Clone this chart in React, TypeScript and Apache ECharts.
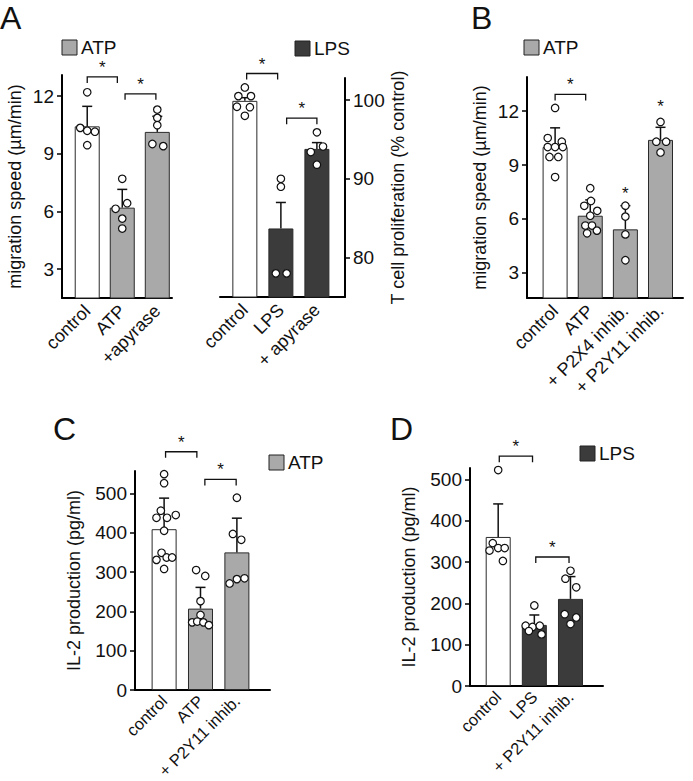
import React, { useEffect, useRef } from 'react';
import * as echarts from 'echarts';

const FONT = '"Liberation Sans", Arial, Helvetica, sans-serif';
const WHITE = '#ffffff';
const GRAY = '#a9a9a9';
const DARK = '#3b3b3b';

// ---------- Panel A (left): migration speed, ATP ----------
const catsA1 = ['control', 'ATP', '+apyrase'];
const meanA1 = [10.43, 6.2, 10.14];
const sdA1 = [1.04, 0.95, 0.81];
const fillA1 = [WHITE, GRAY, GRAY];
// [category, jitter, value]
const ptsA1 = [
  [0, 0, 12.2], [0, -0.2, 10.35], [0, 0, 10.2], [0, 0.22, 10.15], [0, 0, 9.45],
  [1, 0, 7.7], [1, -0.19, 6.14], [1, 0.14, 6.43], [1, 0, 5.63], [1, 0, 5.11],
  [2, 0, 11.3], [2, 0, 10.87], [2, 0, 10.49], [2, -0.14, 9.51], [2, 0.17, 9.4],
];
const ticksA1 = [3, 6, 9, 12];
// [from, to, level]
const bracketsA1 = [[0, 0.86, 13.0], [1.08, 1.96, 12.12]];

// ---------- Panel A (right): T cell proliferation, LPS ----------
const catsA2 = ['control', 'LPS', '+ apyrase'];
const meanA2 = [99.9, 83.7, 93.8];
const sdA2 = [0.4, 3.3, 0.8];
const fillA2 = [WHITE, DARK, DARK];
const ptsA2 = [
  [0, 0, 101.6], [0, -0.18, 100.5], [0, 0.17, 100.5], [0, -0.22, 99.15], [0, 0.14, 99.1], [0, 0, 98.0],
  [1, 0, 90.0], [1, 0, 89.0], [1, -0.14, 78.0], [1, 0.16, 78.0],
  [2, 0, 95.9], [2, -0.17, 93.4], [2, 0.17, 94.1], [2, 0, 91.8],
];
const ticksA2 = [80, 90, 100];
const bracketsA2 = [[0.05, 0.91, 103.37], [1.16, 2.0, 97.7]];

// ---------- Panel B: migration speed, ATP + inhibitors ----------
const catsB = ['control', 'ATP', '+ P2X4 inhib.', '+ P2Y11 inhib.'];
const meanB = [10.0, 6.18, 5.42, 10.4];
const sdB = [1.07, 0.88, 1.32, 0.7];
const fillB = [WHITE, GRAY, GRAY, GRAY];
const ptsB = [
  [0, 0, 12.18], [0, -0.21, 10.5], [0, 0.19, 10.3], [0, -0.21, 10.0], [0, 0, 10.0], [0, 0.22, 10.0],
  [0, -0.16, 9.45], [0, 0.09, 9.45], [0, 0, 8.33],
  [1, 0, 7.71], [1, -0.17, 6.73], [1, 0.02, 7.0], [1, 0.2, 6.45], [1, 0, 6.18], [1, -0.14, 5.63],
  [1, 0.05, 5.63], [1, -0.09, 5.2], [1, 0.19, 5.35],
  [2, 0, 6.74], [2, 0, 6.13], [2, 0, 5.14], [2, 0, 3.7],
  [3, 0, 11.4], [3, -0.12, 10.3], [3, 0.16, 10.3], [3, 0, 9.7],
];
const ticksB = [3, 6, 9, 12];
const bracketsB = [[0, 0.87, 12.93]];
// [category, level] of stand-alone stars
const starsB = [[2, 7.44], [3, 12.28]];

// ---------- Panel C: IL-2 production, ATP ----------
const catsC = ['control', 'ATP', '+ P2Y11 inhib.'];
const meanC = [409, 207, 350];
const sdC = [79, 54, 87];
const fillC = [WHITE, GRAY, GRAY];
const ptsC = [
  [0, 0, 549], [0, 0, 526], [0, -0.09, 456], [0, -0.21, 438], [0, 0.08, 438], [0, 0.32, 445],
  [0, 0, 405], [0, -0.07, 349], [0, -0.21, 331], [0, 0.07, 337], [0, 0.22, 337], [0, 0, 308],
  [1, -0.12, 305], [1, 0.13, 290], [1, 0, 226], [1, 0, 191], [1, -0.23, 172], [1, -0.09, 174],
  [1, 0.08, 172], [1, 0.23, 165],
  [2, 0, 489], [2, -0.11, 397], [2, 0.12, 382], [2, -0.2, 271], [2, 0, 282], [2, 0.21, 284],
];
const ticksC = [0, 100, 200, 300, 400, 500];
const bracketsC = [[0.04, 0.9, 606], [1.12, 1.98, 535.6]];

// ---------- Panel D: IL-2 production, LPS ----------
const catsD = ['control', 'LPS', '+ P2Y11 inhib.'];
const meanD = [361, 148, 211];
const sdD = [80, 24, 54];
const fillD = [WHITE, DARK, DARK];
const ptsD = [
  [0, 0, 523], [0, -0.15, 346], [0, -0.24, 328], [0, 0, 334], [0, 0.18, 334], [0, 0.13, 303],
  [1, 0, 195], [1, -0.24, 146], [1, -0.05, 143], [1, 0.15, 146], [1, -0.15, 133], [1, 0.2, 125],
  [2, 0, 279], [2, -0.14, 260], [2, 0.16, 239], [2, -0.16, 174], [2, 0.16, 166], [2, 0, 150],
];
const ticksD = [0, 100, 200, 300, 400, 500];
const bracketsD = [[0.03, 0.95, 556.6], [1.04, 1.96, 312.4]];

const panels = [
  {
    cats: catsA1, mean: meanA1, sd: sdA1, fill: fillA1, pts: ptsA1, brackets: bracketsA1, stars: [],
    ticks: ticksA1, yName: 'migration speed (µm/min)',
    grid: { left: 62, top: 75, width: 110, height: 223 }, x: [-0.72, 2.42], y: [1.5, 13.1],
    yPos: 'left', nameGap: 38, catFont: 18, catMargin: 10,
  },
  {
    cats: catsA2, mean: meanA2, sd: sdA2, fill: fillA2, pts: ptsA2, brackets: bracketsA2, stars: [],
    ticks: ticksA2, yName: 'T cell proliferation (% control)',
    grid: { left: 220, top: 78, width: 125, height: 219 }, x: [-0.69, 2.78], y: [75, 102.8],
    yPos: 'right', nameGap: 41, catFont: 18, catMargin: 10,
  },
  {
    cats: catsB, mean: meanB, sd: sdB, fill: fillB, pts: ptsB, brackets: bracketsB, stars: starsB,
    ticks: ticksB, yName: 'migration speed (µm/min)',
    grid: { left: 527, top: 77, width: 156, height: 221 }, x: [-0.8, 3.64], y: [1.6, 13.9],
    yPos: 'left', nameGap: 38, catFont: 18, catMargin: 10,
  },
  {
    cats: catsC, mean: meanC, sd: sdC, fill: fillC, pts: ptsC, brackets: bracketsC, stars: [],
    ticks: ticksC, yName: 'IL-2 production (pg/ml)',
    grid: { left: 135, top: 471, width: 135, height: 219 }, x: [-0.8, 2.91], y: [0, 557],
    yPos: 'left', nameGap: 52, catFont: 16.5, catMargin: 8,
  },
  {
    cats: catsD, mean: meanD, sd: sdD, fill: fillD, pts: ptsD, brackets: bracketsD, stars: [],
    ticks: ticksD, yName: 'IL-2 production (pg/ml)',
    grid: { left: 470, top: 468, width: 133, height: 218 }, x: [-0.78, 2.9], y: [0, 528],
    yPos: 'left', nameGap: 52, catFont: 16.5, catMargin: 8,
  },
];

const legends = [
  { x: 62, y: 40, label: 'ATP', fill: GRAY },
  { x: 295, y: 41, label: 'LPS', fill: DARK },
  { x: 524, y: 40, label: 'ATP', fill: GRAY },
  { x: 269, y: 455, label: 'ATP', fill: GRAY },
  { x: 580, y: 446, label: 'LPS', fill: DARK },
];
const letters = [
  { t: 'A', x: 0, y: 2 },
  { t: 'B', x: 471, y: 2 },
  { t: 'C', x: 53, y: 413 },
  { t: 'D', x: 390, y: 413 },
];

function buildOption() {
  const grid: any[] = [];
  const xAxis: any[] = [];
  const yAxis: any[] = [];
  const series: any[] = [];
  panels.forEach((p, i) => {
    grid.push({ ...p.grid, containLabel: false, outerBoundsMode: 'none' });
    xAxis.push({
      type: 'value', gridIndex: i, min: p.x[0], max: p.x[1],
      axisLine: { show: true, onZero: false, lineStyle: { color: '#000', width: 2 } },
      axisTick: { show: false },
      splitLine: { show: false },
      axisLabel: {
        customValues: p.cats.map((_, k) => k),
        formatter: (v: number) => p.cats[Math.round(v)] ?? '',
        rotate: 45, margin: p.catMargin, fontSize: p.catFont, color: '#111', fontFamily: FONT,
      },
    });
    yAxis.push({
      type: 'value', gridIndex: i, min: p.y[0], max: p.y[1], position: p.yPos,
      name: p.yName, nameLocation: 'middle', nameGap: p.nameGap,
      nameTextStyle: { fontSize: 18, color: '#111', fontFamily: FONT },
      axisLine: { show: true, onZero: false, lineStyle: { color: '#000', width: 2 } },
      axisTick: { show: true, customValues: p.ticks, length: 5, lineStyle: { color: '#000', width: 1.5 } },
      splitLine: { show: false },
      axisLabel: { customValues: p.ticks, margin: 8, fontSize: 19, color: '#111', fontFamily: FONT },
    });
    series.push({
      type: 'bar', xAxisIndex: i, yAxisIndex: i, barWidth: 25,
      data: p.mean.map((m, k) => ({ value: [k, m], itemStyle: { color: p.fill[k] } })),
      itemStyle: { borderColor: '#2a2a2a', borderWidth: 1 },
    });
    series.push({
      type: 'custom', xAxisIndex: i, yAxisIndex: i, clip: false,
      data: p.mean.map((m, k) => [k, m, p.sd[k]]),
      renderItem: (_: any, api: any) => {
        const a = api.coord([api.value(0), api.value(1)]);
        const b = api.coord([api.value(0), api.value(1) + api.value(2)]);
        const st = { stroke: '#111', lineWidth: 1.5 };
        return {
          type: 'group', children: [
            { type: 'line', shape: { x1: a[0], y1: a[1], x2: b[0], y2: b[1] }, style: st },
            { type: 'line', shape: { x1: b[0] - 5, y1: b[1], x2: b[0] + 5, y2: b[1] }, style: st },
          ],
        };
      },
    });
    series.push({
      type: 'scatter', xAxisIndex: i, yAxisIndex: i, symbol: 'circle', symbolSize: 7.5,
      itemStyle: { color: '#fff', borderColor: '#111', borderWidth: 1.2, opacity: 1 },
      data: p.pts.map((d) => [d[0] + d[1], d[2]]),
      z: 5,
    });
    series.push({
      type: 'custom', xAxisIndex: i, yAxisIndex: i, clip: false,
      data: p.brackets,
      renderItem: (_: any, api: any) => {
        const a = api.coord([api.value(0), api.value(2)]);
        const b = api.coord([api.value(1), api.value(2)]);
        return {
          type: 'group', children: [
            {
              type: 'polyline',
              shape: { points: [[a[0], a[1] + 6], [a[0], a[1]], [b[0], b[1]], [b[0], b[1] + 6]] },
              style: { stroke: '#111', lineWidth: 1.3, fill: 'none' },
            },
            {
              type: 'text',
              style: { text: '*', x: (a[0] + b[0]) / 2, y: a[1] - 1, align: 'center', verticalAlign: 'bottom', fontSize: 17, fontFamily: FONT, fill: '#111' },
            },
          ],
        };
      },
    });
    if (p.stars.length) {
      series.push({
        type: 'custom', xAxisIndex: i, yAxisIndex: i, clip: false,
        data: p.stars,
        renderItem: (_: any, api: any) => {
          const a = api.coord([api.value(0), api.value(1)]);
          return {
            type: 'text',
            style: { text: '*', x: a[0], y: a[1], align: 'center', verticalAlign: 'middle', fontSize: 17, fontFamily: FONT, fill: '#111' },
          };
        },
      });
    }
  });

  const graphic: any[] = [];
  legends.forEach((l) => {
    graphic.push({ type: 'rect', shape: { x: l.x, y: l.y, width: 15, height: 15 }, style: { fill: l.fill, stroke: '#222', lineWidth: 1 } });
    graphic.push({ type: 'text', x: l.x + 19, y: l.y + 7.5, style: { text: l.label, fontSize: 19, fontFamily: FONT, fill: '#111', verticalAlign: 'middle' } });
  });
  letters.forEach((t) => {
    graphic.push({ type: 'text', x: t.x, y: t.y, style: { text: t.t, fontSize: 32, fontFamily: FONT, fill: '#111', verticalAlign: 'top' } });
  });

  return {
    animation: false,
    backgroundColor: '#fff',
    textStyle: { fontFamily: FONT },
    grid, xAxis, yAxis, series, graphic,
  };
}

export default function App() {
  const ref = useRef<HTMLDivElement>(null);
  useEffect(() => {
    if (!ref.current) return;
    const chart = echarts.init(ref.current, null, { renderer: 'svg' });
    chart.setOption(buildOption() as any);
    return () => chart.dispose();
  }, []);
  return <div ref={ref} style={{ position: 'absolute', left: 0, top: 0, width: 693, height: 781, background: '#fff' }} />;
}
